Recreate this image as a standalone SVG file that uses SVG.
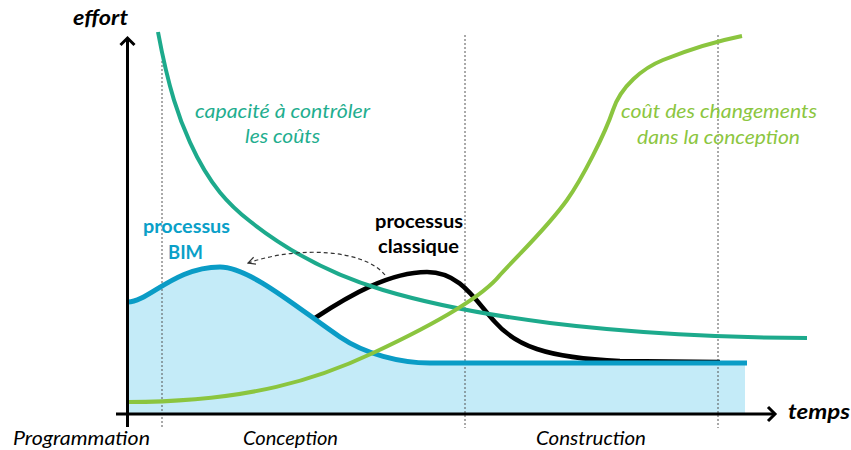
<svg xmlns="http://www.w3.org/2000/svg" width="851" height="450" viewBox="0 0 851 450">
  <style>
    .lbl { font-family: Lato, "Open Sans", "Liberation Sans", sans-serif; }
    .it { font-style: italic; font-size: 19px; }
    .bi { font-style: italic; font-weight: bold; font-size: 20px; fill: #000; }
    .bold { font-weight: bold; font-size: 18px; }
    .guide { stroke: #555; stroke-width: 1; stroke-dasharray: 2 2; fill: none; }
    .axis { stroke: #000; stroke-width: 3; fill: none; }
    .curve { fill: none; stroke-linecap: butt; stroke-linejoin: round; }
  </style>
  <defs>
    <marker id="openHead" viewBox="0 0 10 10" refX="9" refY="5" markerWidth="9" markerHeight="9" markerUnits="userSpaceOnUse" orient="auto">
      <path d="M1,1 L9,5 L1,9" fill="none" stroke="#333" stroke-width="1.3"/>
    </marker>
  </defs>
  <rect width="851" height="450" fill="#ffffff"/>

  <!-- BIM area fill -->
  <g id="bim-fill">
    <path d="M128,302 C148,302 175,267 220,267 C250,267 300,310 340,337 C365,354 400,363 430,363 L745,363 L745,414 L128,414 Z" fill="#c4ebf8"/>
  </g>

  <!-- phase guide lines -->
  <g id="guides">
    <line class="guide" x1="162" y1="61" x2="162" y2="428"/>
    <line class="guide" x1="465" y1="35" x2="465" y2="428"/>
    <line class="guide" x1="718" y1="35" x2="718" y2="428"/>
  </g>

  <!-- classic process curve -->
  <g id="classic-curve">
    <path class="curve" d="M315,318 C350,295 390,272 427,272 C460,272 475,300 495,322 C515,345 545,358 620,361 L720,362" stroke="#000" stroke-width="4.5"/>
  </g>

  <!-- BIM process curve -->
  <g id="bim-curve">
    <path class="curve" d="M128,302 C148,302 175,267 220,267 C250,267 300,310 340,337 C365,354 400,363 430,363 L747,363" stroke="#0a9cc6" stroke-width="5"/>
  </g>

  <!-- capacity to control costs curve -->
  <g id="capacity-curve">
    <path class="curve" d="M158,32 C168.7,89.8 179.3,118.9 190,142.4 C210,186.4 230,205.6 250,221.3 C294,256 339,277 383,290 C433,305 495,316 550,323 C630,333 727,338 807,338" stroke="#1daa8c" stroke-width="4"/>
  </g>

  <!-- cost of changes curve -->
  <g id="cost-curve">
    <path class="curve" d="M128,402 C250,402 320,378 373,353 C418,332 480,300 500,275 C520,253 547,228 567,200 C582,179 605,134 613,110 C621,86 643,68 663,60 C688,50 712,42 742,36" stroke="#8bc53f" stroke-width="4"/>
  </g>

  <!-- axes -->
  <g id="axes">
    <line class="axis" x1="127.5" y1="427" x2="127.5" y2="38"/>
    <polyline class="axis" points="120.5,45 127.5,38 134.5,45"/>
    <line class="axis" x1="116" y1="414" x2="775" y2="414"/>
    <polyline class="axis" points="768,407 775,414 768,421"/>
  </g>

  <!-- connector -->
  <g id="connectors">
    <path d="M385,275 C365,250 300,245 248,263" fill="none" stroke="#333" stroke-width="1.2" stroke-dasharray="4 3" marker-end="url(#openHead)"/>
  </g>

  <!-- labels -->
  <g id="axis-labels" class="lbl">
    <text class="bi" x="73" y="25" textLength="55" lengthAdjust="spacingAndGlyphs">effort</text>
    <text class="bi" x="788" y="419" textLength="62" lengthAdjust="spacingAndGlyphs">temps</text>
  </g>
  <g id="phase-labels" class="lbl it" fill="#000">
    <text x="13" y="445" textLength="137" lengthAdjust="spacingAndGlyphs">Programmation</text>
    <text x="243" y="445" textLength="95" lengthAdjust="spacingAndGlyphs">Conception</text>
    <text x="536" y="445" textLength="110" lengthAdjust="spacingAndGlyphs">Construction</text>
  </g>
  <g id="capacity-label" class="lbl it" fill="#1fae8f">
    <text x="195" y="118" textLength="175" lengthAdjust="spacingAndGlyphs">capacité à contrôler</text>
    <text x="245" y="143" textLength="75" lengthAdjust="spacingAndGlyphs">les coûts</text>
  </g>
  <g id="cost-label" class="lbl it" fill="#8cc63f">
    <text x="621" y="118" textLength="196" lengthAdjust="spacingAndGlyphs">coût des changements</text>
    <text x="637" y="144" textLength="163" lengthAdjust="spacingAndGlyphs">dans la conception</text>
  </g>
  <g id="bim-label" class="lbl bold" fill="#0aa0c8">
    <text x="143" y="233" textLength="87" lengthAdjust="spacingAndGlyphs">processus</text>
    <text x="168" y="259" textLength="35" lengthAdjust="spacingAndGlyphs">BIM</text>
  </g>
  <g id="classic-label" class="lbl bold" fill="#000">
    <text x="375" y="228" textLength="88" lengthAdjust="spacingAndGlyphs">processus</text>
    <text x="378" y="253" textLength="81" lengthAdjust="spacingAndGlyphs">classique</text>
  </g>
</svg>
